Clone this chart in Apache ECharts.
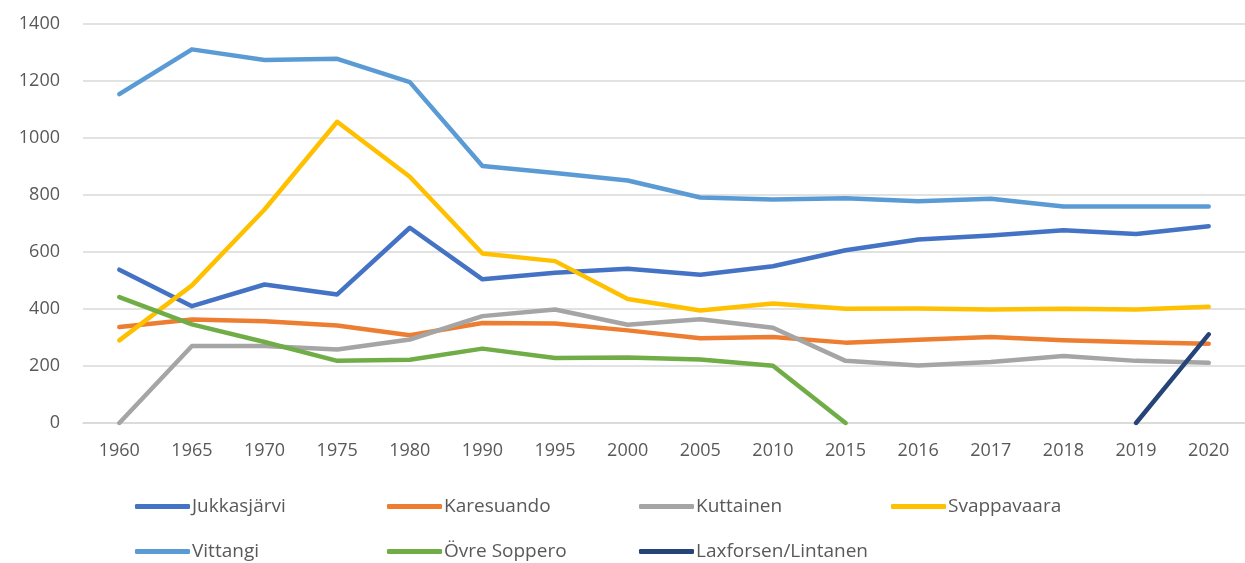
<!DOCTYPE html>
<html>
<head>
<meta charset="utf-8">
<script src="https://cdn.jsdelivr.net/npm/echarts@6/dist/echarts.min.js"></script>
<style>
  html, body { margin: 0; padding: 0; background: #fff; }
  #chart { width: 1245px; height: 563px; }
</style>
</head>
<body>
<div id="chart"></div>
<script>
const years = ['1960','1965','1970','1975','1980','1990','1995','2000','2005','2010','2015','2016','2017','2018','2019','2020'];

const jukkasjarvi = [538, 410, 486, 451, 685, 504, 527, 541, 520, 550, 606, 644, 658, 676, 663, 690];
const karesuando  = [337, 363, 357, 342, 308, 351, 349, 325, 297, 302, 282, 292, 302, 290, 283, 278];
const kuttainen   = [0, 270, 270, 258, 293, 375, 398, 345, 364, 334, 218, 202, 214, 235, 218, 211];
const svappavaara = [290, 483, 749, 1057, 864, 595, 568, 435, 395, 419, 401, 402, 398, 401, 398, 408];
const vittangi    = [1154, 1311, 1274, 1278, 1196, 902, 877, 851, 791, 784, 789, 778, 787, 760, 760, 760];
const ovreSoppero = [442, 346, 284, 218, 222, 261, 228, 230, 223, 201, 0, null, null, null, null, null];
const laxforsen   = [null, null, null, null, null, null, null, null, null, null, null, null, null, null, 0, 311];

const seriesNames  = ['Jukkasjärvi', 'Karesuando', 'Kuttainen', 'Svappavaara', 'Vittangi', 'Övre Soppero', 'Laxforsen/Lintanen'];
const seriesColors = ['#4472C4', '#ED7D31', '#A5A5A5', '#FFC000', '#5B9BD5', '#70AD47', '#264478'];
const seriesData   = [jukkasjarvi, karesuando, kuttainen, svappavaara, vittangi, ovreSoppero, laxforsen];

const yTicks = { min: 0, max: 1400, interval: 200 };

const chart = echarts.init(document.getElementById('chart'));

const font = '"Open Sans", sans-serif';

// legend: 4 per row, fixed columns like the original
const legends = seriesNames.map(function (name, i) {
    return {
        left: 135 + (i % 4) * 252,
        top: i < 4 ? 497 : 542,
        padding: 0,
        icon: 'roundRect',
        itemWidth: 55,
        itemHeight: 5,
        data: [name],
        textStyle: { fontFamily: font, fontSize: 19, color: '#595959', padding: [0, 0, 0, -3] }
    };
});

const options = {
    animation: false,
    backgroundColor: '#fff',
    grid: { left: 83, right: 0, top: 24, bottom: 140, containLabel: false },
    legend: legends,
    xAxis: {
        type: 'category',
        data: years,
        boundaryGap: true,
        axisLine: { show: true, lineStyle: { color: '#d9d9d9', width: 1.5 } },
        axisTick: { show: false },
        axisLabel: { fontFamily: font, fontSize: 18, color: '#595959', margin: 19 }
    },
    yAxis: {
        type: 'value',
        min: yTicks.min,
        max: yTicks.max,
        interval: yTicks.interval,
        axisLine: { show: false },
        axisTick: { show: false },
        splitLine: { lineStyle: { color: '#d9d9d9', width: 1.5 } },
        axisLabel: {
            fontFamily: font, fontSize: 18, color: '#595959', margin: 23,
            formatter: function (v) { return String(v); }
        }
    },
    series: seriesNames.map(function (name, i) {
        return {
            name: name,
            type: 'line',
            data: seriesData[i],
            symbol: 'none',
            connectNulls: false,
            lineStyle: { width: 4.5, color: seriesColors[i], cap: 'round', join: 'round' },
            itemStyle: { color: seriesColors[i] }
        };
    })
};

chart.setOption(options);
</script>
</body>
</html>
